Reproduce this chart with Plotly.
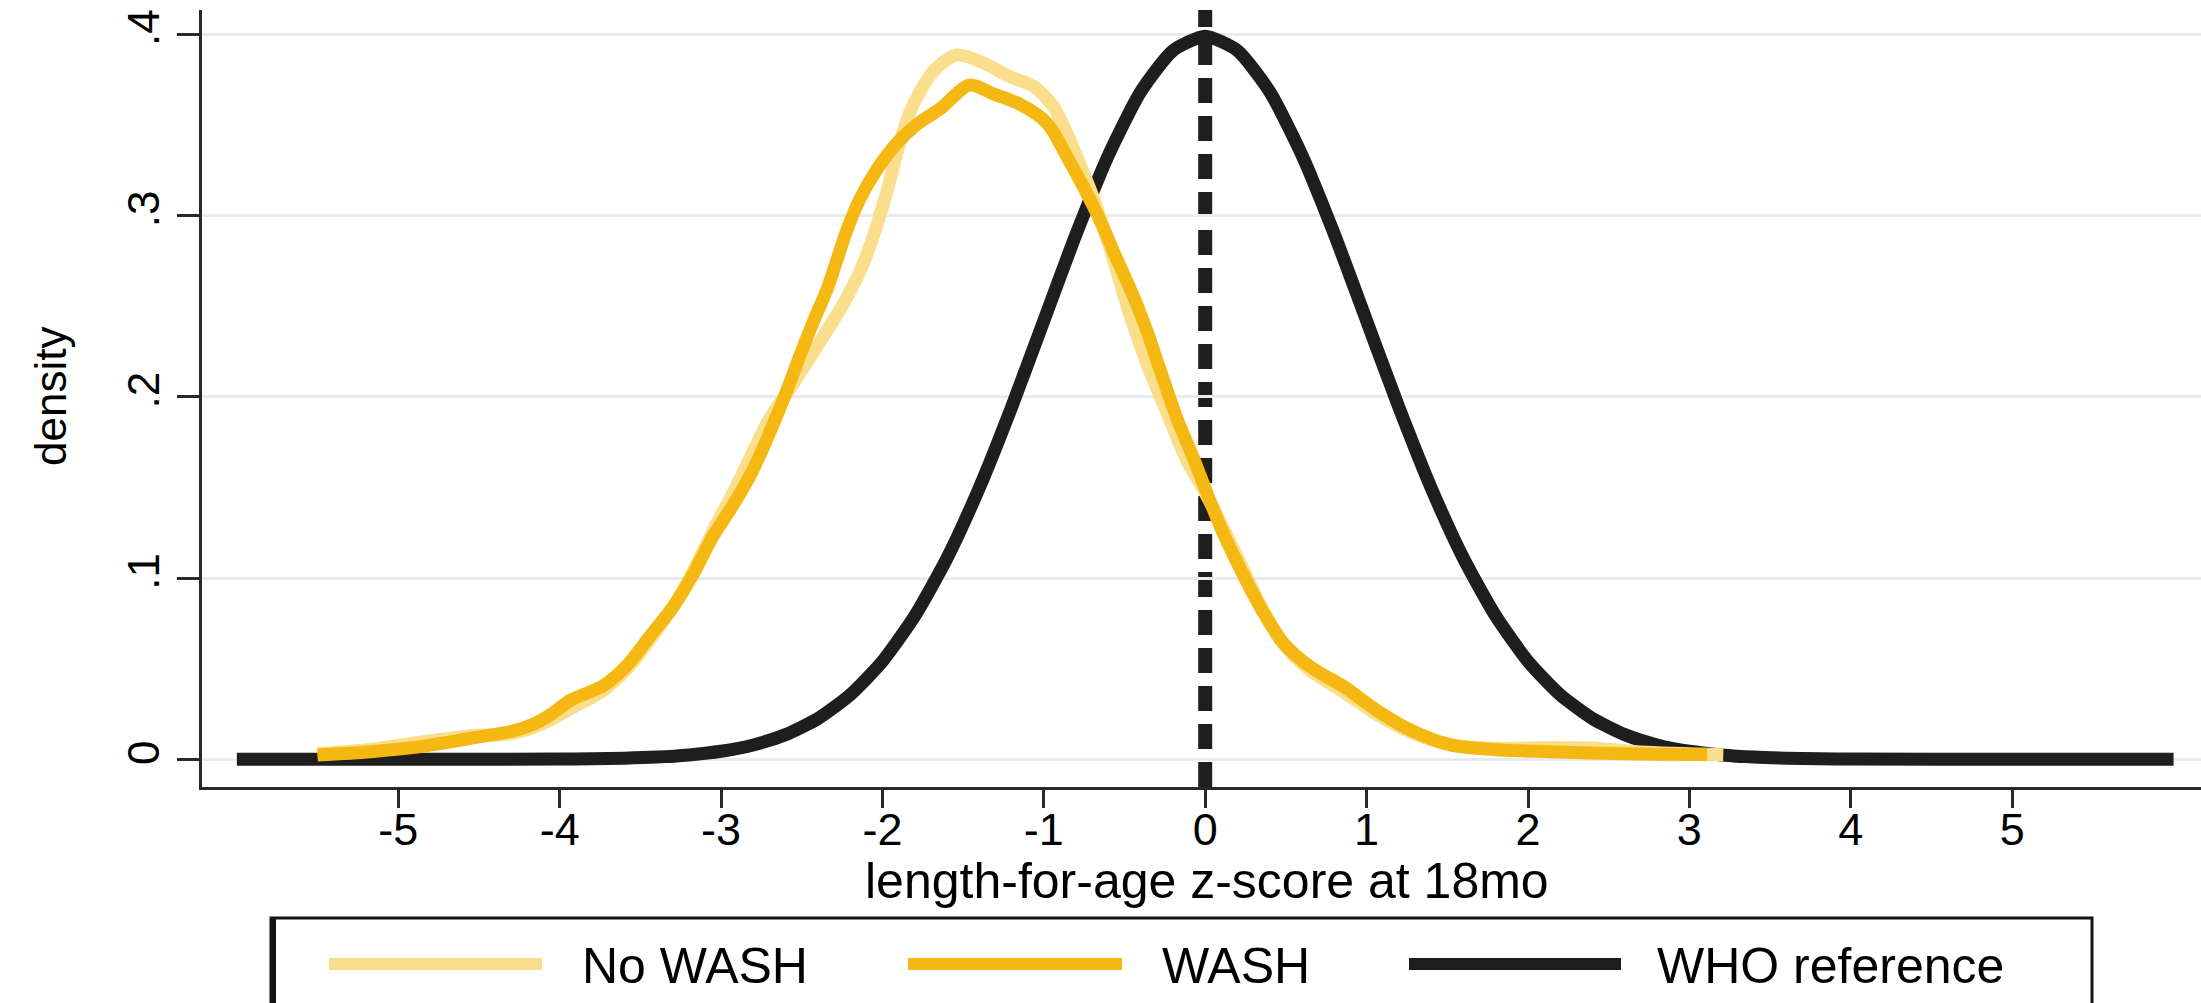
import plotly.graph_objects as go

# ---------------- data ----------------
wash_z = [-5.50, -5.17, -4.86, -4.55, -4.31, -4.16, -4.05, -3.93, -3.73, -3.58, -3.44, -3.29,
          -3.17, -3.05, -2.92, -2.80, -2.69, -2.59, -2.51, -2.43, -2.34, -2.28, -2.22, -2.14,
          -2.03, -1.91, -1.79, -1.64, -1.46, -1.31, -1.15, -0.98, -0.86, -0.75, -0.65, -0.55,
          -0.44, -0.36, -0.28, -0.175, -0.07, 0.01, 0.11, 0.24, 0.36, 0.485, 0.65, 0.86, 1.06,
          1.27, 1.52, 1.83, 2.14, 2.60, 3.11]
wash_d = [0.0024, 0.0042, 0.0070, 0.0116, 0.0152, 0.0195, 0.0250, 0.0327, 0.0405, 0.0520, 0.0680, 0.0850,
          0.1026, 0.1230, 0.1410, 0.1600, 0.1820, 0.2040, 0.2230, 0.2410, 0.2600, 0.2760, 0.2920, 0.3090,
          0.3260, 0.3400, 0.3500, 0.3590, 0.3720, 0.3670, 0.3615, 0.3510, 0.3330, 0.3150, 0.2970, 0.2765,
          0.2545, 0.2360, 0.2150, 0.1880, 0.1655, 0.1470, 0.1250, 0.1010, 0.0810, 0.0640, 0.0510, 0.0400, 0.0272,
          0.0162, 0.0079, 0.0051, 0.0042, 0.0030, 0.0026]

nowash_z = [-5.50, -5.17, -4.86, -4.55, -4.31, -4.12, -3.93, -3.73, -3.58, -3.44, -3.29, -3.17,
            -3.05, -2.92, -2.80, -2.70, -2.55, -2.44, -2.34, -2.24, -2.14, -2.055, -1.97, -1.89,
            -1.81, -1.68, -1.54, -1.37, -1.21, -1.06, -0.94, -0.86, -0.77, -0.69, -0.59, -0.47,
            -0.36, -0.24, -0.12, 0.00, 0.11, 0.24, 0.36, 0.49, 0.65, 0.86, 1.06, 1.27, 1.52,
            1.83, 2.14, 2.40, 2.70, 3.21]
nowash_d = [0.0030, 0.0055, 0.0095, 0.0130, 0.0140, 0.0190, 0.0280, 0.0380, 0.0500, 0.0660, 0.0850, 0.1040,
            0.1260, 0.1480, 0.1700, 0.1880, 0.2074, 0.2230, 0.2369, 0.2516, 0.2690, 0.2890, 0.3140, 0.3410,
            0.3610, 0.3800, 0.3886, 0.3840, 0.3766, 0.3711, 0.3600, 0.3460, 0.3270, 0.3090, 0.2820, 0.2460,
            0.2180, 0.1920, 0.1660, 0.1470, 0.1280, 0.1040, 0.0820, 0.0630, 0.0490, 0.0370, 0.0250, 0.0150, 0.0080,
            0.0060, 0.0065, 0.0062, 0.0040, 0.0025]

who_z = [-6.0, -5.0, -4.0, -3.8, -3.6, -3.4, -3.2, -3.0, -2.8, -2.6, -2.4, -2.2, -2.0, -1.8, -1.6,
         -1.4, -1.2, -1.0, -0.8, -0.6, -0.4, -0.2, 0.0, 0.2, 0.4, 0.6, 0.8, 1.0, 1.2, 1.4, 1.6,
         1.8, 2.0, 2.2, 2.4, 2.6, 2.8, 3.0, 3.2, 3.4, 3.6, 3.8, 4.0, 5.0, 6.0]
who_d = [0.0, 0.0, 0.0001, 0.0003, 0.0006, 0.0012, 0.0024, 0.0044, 0.0079, 0.0136, 0.0224, 0.0355,
         0.0540, 0.0790, 0.1109, 0.1497, 0.1942, 0.2420, 0.2897, 0.3332, 0.3683, 0.3910, 0.3989,
         0.3910, 0.3683, 0.3332, 0.2897, 0.2420, 0.1942, 0.1497, 0.1109, 0.0790, 0.0540, 0.0355,
         0.0224, 0.0136, 0.0079, 0.0044, 0.0024, 0.0012, 0.0006, 0.0003, 0.0001, 0.0, 0.0]

x_tickvals = [-5, -4, -3, -2, -1, 0, 1, 2, 3, 4, 5]
x_ticktext = ["-5", "-4", "-3", "-2", "-1", "0", "1", "2", "3", "4", "5"]
y_tickvals = [0, 0.1, 0.2, 0.3, 0.4]
y_ticktext = ["0", ".1", ".2", ".3", ".4"]
reference_z = 0

series_names = ["No WASH", "WASH", "WHO reference"]
x_title = "length-for-age z-score at 18mo"
y_title = "density"

# ---------------- styling ----------------
W, H = 2201, 1003
ML, MR, MT, MB = 202, 0, 10, 216
PW, PH = W - ML - MR, H - MT - MB
FONT = "Liberation Sans, Arial, Helvetica, sans-serif"
C_LIGHT = "rgb(250,222,140)"
C_WASH = "rgb(245,184,18)"
C_BLACK = "rgb(30,30,30)"
LW = 13


def xp(px):
    return (px - ML) / PW


def yp(py):
    return (MT + PH - py) / PH


fig = go.Figure()
fig.add_trace(go.Scatter(x=who_z, y=who_d, mode="lines", name=series_names[2],
                         line=dict(color=C_BLACK, width=LW, shape="spline", smoothing=0.6)))
fig.add_trace(go.Scatter(x=nowash_z, y=nowash_d, mode="lines", name=series_names[0],
                         line=dict(color=C_LIGHT, width=LW, shape="spline", smoothing=0.8)))
fig.add_trace(go.Scatter(x=wash_z, y=wash_d, mode="lines", name=series_names[1],
                         line=dict(color=C_WASH, width=LW, shape="spline", smoothing=0.8)))

shapes = []
# vertical dashed reference line at z = 0 (behind the curves)
shapes.append(dict(type="line", xref="x", yref="paper", x0=reference_z, x1=reference_z, y0=0, y1=1,
                   line=dict(color=C_BLACK, width=14, dash="25px,13px"), layer="below"))

# legend drawn by hand (box, swatches)
shapes.append(dict(type="rect", xref="paper", yref="paper", x0=xp(271), x1=xp(2092),
                   y0=yp(1015), y1=yp(918), line=dict(color="rgb(20,20,20)", width=3),
                   fillcolor="white", layer="above"))
shapes.append(dict(type="line", xref="paper", yref="paper", x0=xp(273), x1=xp(273),
                   y0=yp(1015), y1=yp(918), line=dict(color="rgb(20,20,20)", width=6)))
sw_y = yp(964)
for (x0, x1, col) in [(329, 542, C_LIGHT), (908, 1122, C_WASH), (1409, 1621, C_BLACK)]:
    shapes.append(dict(type="line", xref="paper", yref="paper", x0=xp(x0), x1=xp(x1),
                       y0=sw_y, y1=sw_y, line=dict(color=col, width=12)))

annotations = []
for (tx, name) in [(580, series_names[0]), (1160, series_names[1]), (1655, series_names[2])]:
    annotations.append(dict(x=xp(tx), y=yp(966), xref="paper", yref="paper", text=name,
                            showarrow=False, xanchor="left", yanchor="middle",
                            font=dict(size=50, color="black", family=FONT)))
annotations.append(dict(x=xp(1207), y=yp(881), xref="paper", yref="paper", text=x_title,
                        showarrow=False, xanchor="center", yanchor="middle",
                        font=dict(size=50, color="black", family=FONT)))
annotations.append(dict(x=xp(50), y=yp(397), xref="paper", yref="paper", text=y_title,
                        showarrow=False, xanchor="center", yanchor="middle", textangle=-90,
                        font=dict(size=44, color="black", family=FONT)))

fig.update_layout(
    width=W, height=H,
    margin=dict(l=ML, r=MR, t=MT, b=MB, pad=0),
    paper_bgcolor="white", plot_bgcolor="white",
    showlegend=False,
    font=dict(family=FONT, color="black"),
    shapes=shapes, annotations=annotations,
    xaxis=dict(range=[-6.216, 6.17], tickvals=x_tickvals, ticktext=x_ticktext,
               showgrid=False, zeroline=False, showline=True, linecolor="rgb(40,40,40)", linewidth=3,
               ticks="outside", ticklen=18, tickwidth=3, tickcolor="rgb(40,40,40)",
               ticklabelstandoff=-17,
               tickfont=dict(size=45, family=FONT, color="black")),
    yaxis=dict(range=[-0.0153, 0.4134], tickvals=y_tickvals, ticktext=y_ticktext,
               showgrid=True, gridcolor="rgb(229,236,239)", gridwidth=3, zeroline=False,
               showline=True, linecolor="rgb(40,40,40)", linewidth=3,
               ticks="outside", ticklen=22, tickwidth=3, tickcolor="rgb(40,40,40)",
               tickangle=-90, tickfont=dict(size=44, family=FONT, color="black")),
)

fig.write_html("out.html")
